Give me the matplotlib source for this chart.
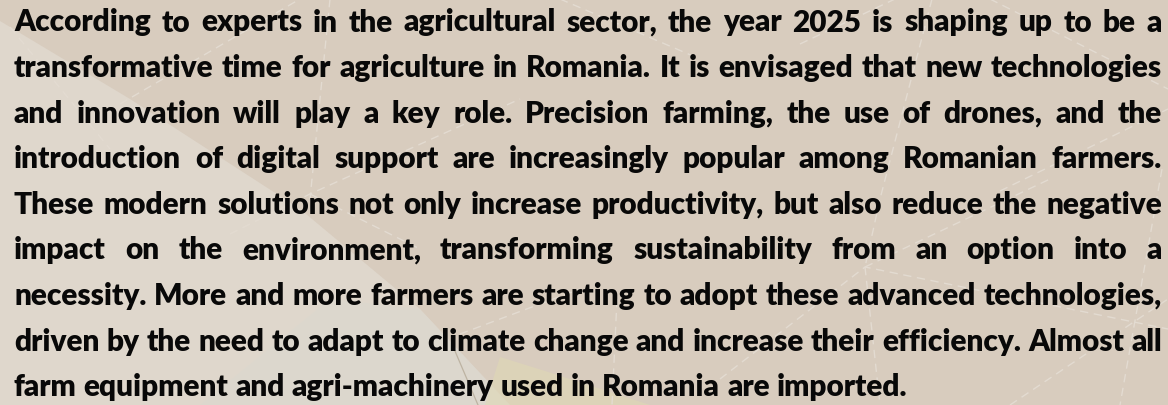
import matplotlib
matplotlib.use("Agg")
import matplotlib.pyplot as plt
from matplotlib.patches import Polygon

# paragraph, one entry per printed line (last line is not justified)
lines = [
    "According to experts in the agricultural sector, the year 2025 is shaping up to be a",
    "transformative time for agriculture in Romania. It is envisaged that new technologies",
    "and innovation will play a key role. Precision farming, the use of drones, and the",
    "introduction of digital support are increasingly popular among Romanian farmers.",
    "These modern solutions not only increase productivity, but also reduce the negative",
    "impact on the environment, transforming sustainability from an option into a",
    "necessity. More and more farmers are starting to adopt these advanced technologies,",
    "driven by the need to adapt to climate change and increase their efficiency. Almost all",
    "farm equipment and agri-machinery used in Romania are imported.",
]

W, H = 1168, 406
left, right = 14, 1162
first_base, line_gap = 31.5, 45.6
last_width = 897  # width of the last (natural) line in the picture

fig = plt.figure(figsize=(W / 100, H / 100), dpi=100)
ax = fig.add_axes([0, 0, 1, 1])
ax.set_xlim(0, W)
ax.set_ylim(H, 0)
ax.axis("off")
fig.patch.set_facecolor("#d8ccbe")
ax.set_facecolor("#d8ccbe")

# background decoration
light = Polygon([(0, 22), (130, 100), (300, 210), (420, 310), (510, 406), (0, 406)],
                closed=True, facecolor="#dfd7cc", edgecolor="none", zorder=0)
ax.add_patch(light)
tint = Polygon([(200, 406), (330, 300), (420, 310), (510, 406)],
               closed=True, facecolor="#dad8cf", edgecolor="none", alpha=0.5, zorder=0)
ax.add_patch(tint)
yellow = Polygon([(485, 406), (500, 358), (545, 372), (650, 406)],
                 closed=True, facecolor="#e0d9b4", edgecolor="none", alpha=0.55, zorder=0)
ax.add_patch(yellow)
ax.plot([452, 478], [345, 406], color="#bdb3a2", lw=0.9, zorder=1)

dashed = [
    [(10, 28), (110, 150)],
    [(120, 105), (300, 0)],
    [(330, 0), (310, 200)],
    [(230, 235), (310, 195), (520, 100)],
    [(310, 195), (420, 250)],
    [(800, 45), (895, 0)],
    [(932, 0), (880, 200), (865, 268)],
    [(990, 0), (1168, 90)],
    [(1000, 192), (1168, 110)],
    [(720, 380), (865, 268), (1168, 330)],
    [(865, 268), (1050, 180)],
    [(865, 268), (880, 406)],
    [(1162, 170), (1120, 406)],
    [(1010, 406), (1168, 300)],
    [(617, 300), (612, 406)],
    [(460, 335), (580, 290)],
    [(560, 0), (700, 60)],
]
for seg in dashed:
    xs = [p[0] for p in seg]
    ys = [p[1] for p in seg]
    ax.plot(xs, ys, color="#e3dbd1", lw=1, ls=(0, (6, 4)), zorder=1)

font = dict(family="Lato", weight="heavy", color="#080808")
renderer = fig.canvas.get_renderer()


def width_of(s, size):
    t = ax.text(0, 0, s, fontsize=size, **font)
    w = t.get_window_extent(renderer).width
    t.remove()
    return w


# fit the font size to the text block
base = 20
scale = min(last_width / width_of(lines[-1], base),
            (right - left) / width_of(lines[6], base),
            (right - left) / width_of(lines[7], base))
fs = base * scale
space = width_of("a a", fs) - width_of("aa", fs)

for i, line in enumerate(lines):
    y = first_base + i * line_gap
    words = line.split(" ")
    widths = [width_of(wd, fs) for wd in words]
    if i < len(lines) - 1:
        gap = (right - left - sum(widths)) / (len(words) - 1)
    else:
        gap = space
    x = left
    for wd, w in zip(words, widths):
        ax.text(x, y, wd, fontsize=fs, va="baseline", ha="left", zorder=3, **font)
        x += w + gap

fig.savefig("out.png", dpi=100, facecolor=fig.get_facecolor())
